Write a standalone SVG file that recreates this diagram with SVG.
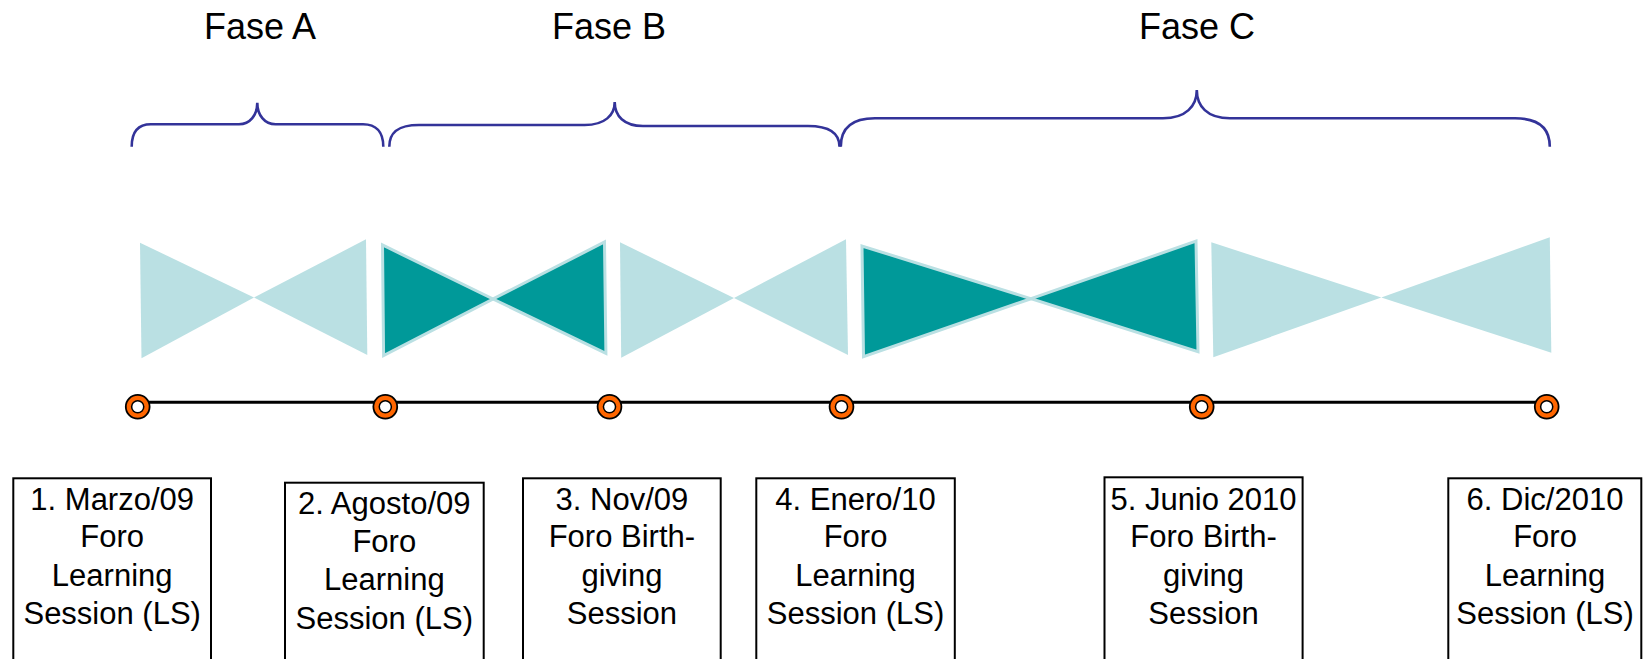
<svg xmlns="http://www.w3.org/2000/svg" width="1643" height="659" viewBox="0 0 1643 659">
<style>
.fase{font-family:"Liberation Sans",Arial,sans-serif;font-size:36px;fill:#000;text-anchor:middle}
.lbl{font-family:"Liberation Sans",Arial,sans-serif;font-size:31px;fill:#000;text-anchor:middle}
.brace{fill:none;stroke:#333399;stroke-width:2.6;stroke-linecap:butt}
.light{fill:#BAE0E3;stroke:none}
.dark{fill:#009999;stroke:#BAE0E3;stroke-width:3;stroke-linejoin:miter}
.box{fill:#fff;stroke:#000;stroke-width:2}
.line{stroke:#000;stroke-width:3}
</style>
<defs>
<g id="dot">
<circle r="12.8" fill="#000"/>
<circle r="11" fill="#FF6600"/>
<circle r="6.8" fill="#000"/>
<circle r="5.3" fill="#fff"/>
</g>
</defs>
<rect width="1643" height="659" fill="#fff"/>

<g id="phase-labels">
<text class="fase" x="260" y="39">Fase A</text>
<text class="fase" x="609" y="39">Fase B</text>
<text class="fase" x="1197" y="39">Fase C</text>
</g>

<g id="braces">
<path id="brace-a" class="brace" d="M131.7,146.7 C131.7,132 138,124.3 151,124.3 L239,124.3 C250,124.3 257.3,115 257.3,102.7 C257.3,115 264.6,124.3 275.6,124.3 L363,124.3 C376,124.3 383.3,132 383.3,146.7"/>
<path id="brace-b" class="brace" d="M389.3,146.7 C389.3,133 397,125 419,125 L584.7,125 C605,125 614.7,115 614.7,102 C614.7,116 624,126 643,126 L808,126 C830,126 839.5,133 839.5,146.7"/>
<path id="brace-c" class="brace" d="M840.8,146.7 C840.8,128 852,118.3 875,118.3 L1163,118.3 C1186,118.3 1196.8,106 1196.8,90 C1196.8,106 1207,118.3 1230,118.3 L1515,118.3 C1538,118.3 1549.8,128 1549.8,146.7"/>
</g>

<g id="bowties">
<g id="bowtie-1">
<polygon class="light" points="140,242.7 141.5,358.3 254,297.5"/>
<polygon class="light" points="366,239.3 367.3,355 254,297.5"/>
</g>
<g id="bowtie-2">
<polygon class="dark" points="382.5,245 383.6,355.6 493,299"/>
<polygon class="dark" points="604.5,242 605.9,353.3 493,299"/>
</g>
<g id="bowtie-3">
<polygon class="light" points="620,242.3 621.2,357.7 734,298"/>
<polygon class="light" points="846,239.3 848,355 734,298"/>
</g>
<g id="bowtie-4">
<polygon class="dark" points="862,246 863.5,356.6 1031,298.7"/>
<polygon class="dark" points="1196,241.2 1198,351.6 1031,298.7"/>
</g>
<g id="bowtie-5">
<polygon class="light" points="1211.3,242.3 1213.3,357.3 1381.3,297.5"/>
<polygon class="light" points="1549.8,237.3 1551.3,352.7 1381.3,297.5"/>
</g>
</g>

<g id="connectors">
<line class="line" x1="137.7" y1="402.3" x2="1546.7" y2="402.3"/>
</g>

<g id="milestones">
<use id="m1" href="#dot" x="137.7" y="406.7"/>
<use id="m2" href="#dot" x="385.3" y="406.7"/>
<use id="m3" href="#dot" x="609.5" y="406.7"/>
<use id="m4" href="#dot" x="841.5" y="406.7"/>
<use id="m5" href="#dot" x="1201.7" y="406.7"/>
<use id="m6" href="#dot" x="1546.7" y="406.7"/>
</g>

<g id="box-1">
<rect class="box" x="13.3" y="478.3" width="197.7" height="190"/>
<text class="lbl" x="112.2" y="509.5">1. Marzo/09</text>
<text class="lbl" x="112.2" y="547">Foro</text>
<text class="lbl" x="112.2" y="585.5">Learning</text>
<text class="lbl" x="112.2" y="624">Session (LS)</text>
</g>
<g id="box-2">
<rect class="box" x="285" y="482.7" width="198.7" height="190"/>
<text class="lbl" x="384.3" y="514">2. Agosto/09</text>
<text class="lbl" x="384.3" y="551.5">Foro</text>
<text class="lbl" x="384.3" y="590">Learning</text>
<text class="lbl" x="384.3" y="628.5">Session (LS)</text>
</g>
<g id="box-3">
<rect class="box" x="523" y="478.3" width="197.7" height="190"/>
<text class="lbl" x="621.9" y="509.5">3. Nov/09</text>
<text class="lbl" x="621.9" y="547">Foro Birth-</text>
<text class="lbl" x="621.9" y="585.5">giving</text>
<text class="lbl" x="621.9" y="624">Session</text>
</g>
<g id="box-4">
<rect class="box" x="756.3" y="478.3" width="198.5" height="190"/>
<text class="lbl" x="855.5" y="509.5">4. Enero/10</text>
<text class="lbl" x="855.5" y="547">Foro</text>
<text class="lbl" x="855.5" y="585.5">Learning</text>
<text class="lbl" x="855.5" y="624">Session (LS)</text>
</g>
<g id="box-5">
<rect class="box" x="1104.5" y="477.3" width="198.1" height="190"/>
<text class="lbl" x="1203.5" y="509.5">5. Junio 2010</text>
<text class="lbl" x="1203.5" y="547">Foro Birth-</text>
<text class="lbl" x="1203.5" y="585.5">giving</text>
<text class="lbl" x="1203.5" y="624">Session</text>
</g>
<g id="box-6">
<rect class="box" x="1448.3" y="478.3" width="193" height="190"/>
<text class="lbl" x="1545" y="509.5">6. Dic/2010</text>
<text class="lbl" x="1545" y="547">Foro</text>
<text class="lbl" x="1545" y="585.5">Learning</text>
<text class="lbl" x="1545" y="624">Session (LS)</text>
</g>
</svg>
